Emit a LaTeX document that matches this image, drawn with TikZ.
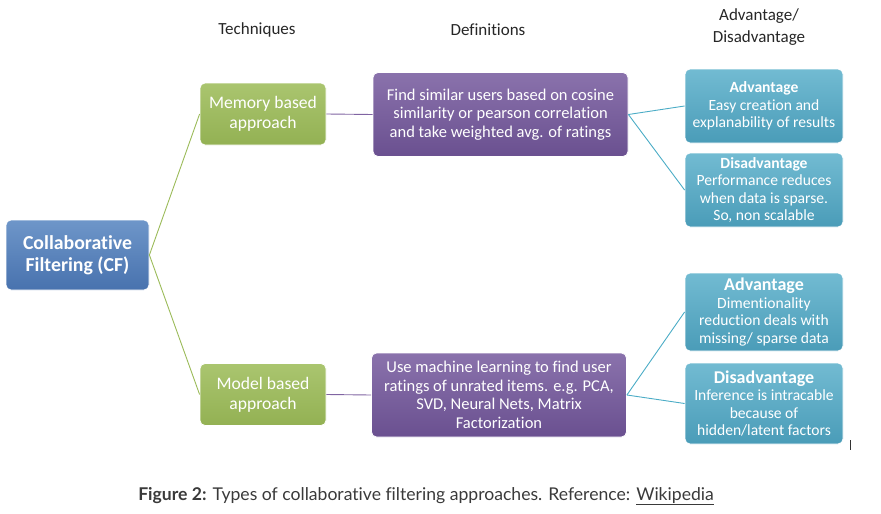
\documentclass[tikz,border=0pt]{standalone}
\usepackage{fontspec}
\setmainfont[Ligatures=NoCommon]{Carlito}
\newfontfamily\capfont[Ligatures=NoCommon]{Lato}
\usetikzlibrary{positioning}

\definecolor{cfblueA}{HTML}{6E96C9}
\definecolor{cfblueB}{HTML}{4872AE}
\definecolor{cfgreenA}{HTML}{AAC56F}
\definecolor{cfgreenB}{HTML}{93B153}
\definecolor{cfpurpleA}{HTML}{8A72AC}
\definecolor{cfpurpleB}{HTML}{6A5090}
\definecolor{cftealA}{HTML}{72BBD2}
\definecolor{cftealB}{HTML}{4A9CB8}
\definecolor{cfgreenline}{HTML}{9BBB59}
\definecolor{cfpurpleline}{HTML}{8064A2}
\definecolor{cftealline}{HTML}{4BACC6}
\definecolor{captext}{HTML}{3A3A3A}

\tikzset{
  box/.style={rounded corners=5pt, draw=white, line width=0.8pt, align=center,
    text=white, inner sep=0pt},
  cfbox/.style={box, top color=cfblueA, bottom color=cfblueB,
    minimum width=143, minimum height=70, font=\fontsize{19.8}{22}\selectfont\bfseries},
  techbox/.style={box, top color=cfgreenA, bottom color=cfgreenB,
    minimum width=126, minimum height=62, font=\fontsize{17.6}{20}\selectfont},
  defbox/.style={box, top color=cfpurpleA, bottom color=cfpurpleB,
    minimum width=255, minimum height=84, font=\fontsize{16.5}{18.5}\selectfont},
  probox/.style={box, top color=cftealA, bottom color=cftealB,
    minimum width=158, font=\fontsize{15.6}{17.5}\selectfont},
  head/.style={align=center, text=black!85, font=\fontsize{17}{22}\selectfont},
  greenline/.style={draw=cfgreenline, line width=0.9pt},
  purpleline/.style={draw=cfpurpleline, line width=0.9pt},
  tealline/.style={draw=cftealline, line width=0.9pt}
}

\begin{document}
\begin{tikzpicture}[x=1pt,y=-1pt]
\useasboundingbox (0,0) rectangle (881,514);
% column heads
\node [head] (hTech) at (257,30) {Techniques};
\node [head] (hDef) at (488,30) {Definitions};
\node [head] (hAdv) at (759,27) {Advantage/\\Disadvantage};
% boxes
\node [cfbox] (cf) at (77.5,255) {Collaborative\\Filtering (CF)};
\node [techbox] (mem) at (263,114) {Memory based\\approach};
\node [techbox] (mod) at (263,394.5) {Model based\\approach};
\node [defbox] (find) at (500.5,114.5) {Find similar users based on cosine\\similarity or pearson correlation\\and take weighted avg. of ratings};
\node [defbox] (use) at (499,395) {Use machine learning to find user\\ratings of unrated items. e.g. PCA,\\SVD, Neural Nets, Matrix\\Factorization};
\node [probox, minimum height=74] (adv1) at (764,106) {\textbf{Advantage}\\Easy creation and\\explanability of results};
\node [probox, minimum height=74] (dis1) at (764,190) {\textbf{Disadvantage}\\Performance reduces\\when data is sparse.\\So, non scalable};
\node [probox, minimum height=78] (adv2) at (764,312) {{\fontsize{18}{17.5}\selectfont\textbf{Advantage}}\\Dimentionality\\reduction deals with\\missing/ sparse data};
\node [probox, minimum height=81] (dis2) at (764,403.5) {{\fontsize{18}{17.5}\selectfont\textbf{Disadvantage}}\\Inference is intracable\\because of\\hidden/latent factors};
% connectors
\draw [greenline] (cf.east) -- (mem.west);
\draw [greenline] (cf.east) -- (mod.west);
\draw [purpleline] (mem.east) -- (find.west);
\draw [purpleline] (mod.east) -- (use.west);
\draw [tealline] (find.east) -- (adv1.west);
\draw [tealline] (find.east) -- (dis1.west);
\draw [tealline] (use.east) -- (adv2.west);
\draw [tealline] (use.east) -- (dis2.west);
% stray mark
\draw [black!80, line width=1pt] (850,440) -- (850,450);
% caption
\node [text=captext, font=\capfont\fontsize{17.6}{20}\selectfont] (cap) at (426,496)
  {\textbf{Figure 2:} Types of collaborative filtering approaches. Reference: \underline{Wikipedia}};
\end{tikzpicture}
\end{document}
